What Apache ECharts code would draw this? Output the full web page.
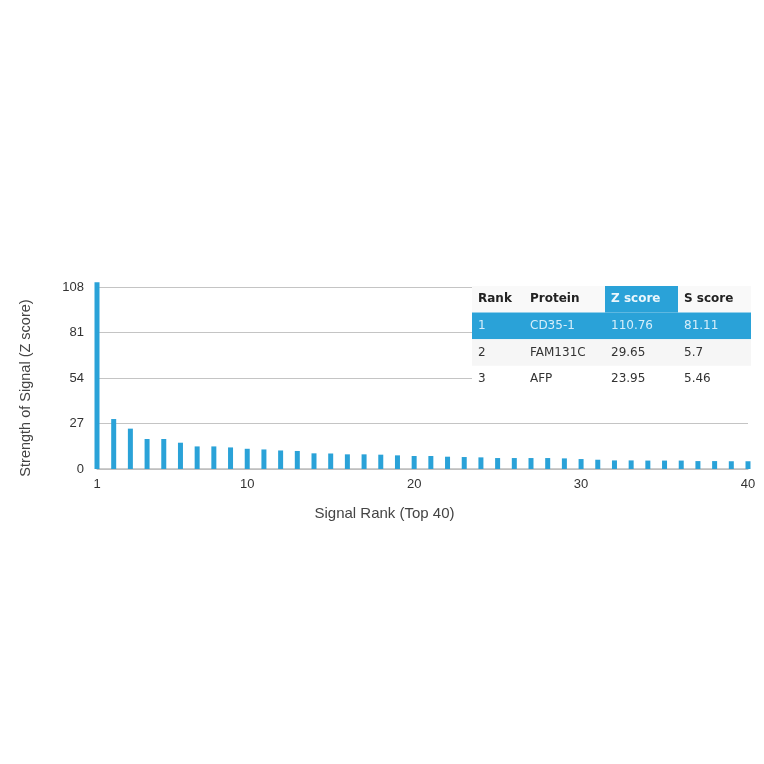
<!DOCTYPE html>
<html>
    <head>
        <meta charset="utf-8">
        <title>Signal Rank</title>
        <script src="https://cdn.jsdelivr.net/npm/echarts@6/dist/echarts.min.js"></script>
        <style>
            html, body { margin: 0; padding: 0; background: #fff; }
            #chart1 { width: 764px; height: 764px; }
        </style>
    </head>
    <body>
        <div id="chart1"></div>
        <script type="text/javascript">
            // signal ranks (top 40)
            var ranks = ['1', '2', '3', '4', '5', '6', '7', '8', '9', '10',
                         '11', '12', '13', '14', '15', '16', '17', '18', '19', '20',
                         '21', '22', '23', '24', '25', '26', '27', '28', '29', '30',
                         '31', '32', '33', '34', '35', '36', '37', '38', '39', '40'];
            // z scores
            var zScores = [110.76, 29.65, 23.95, 17.8, 17.8, 15.6, 13.4, 13.4, 12.8, 12.0,
                           11.6, 11.0, 10.7, 9.3, 9.2, 8.7, 8.7, 8.5, 8.1, 7.7,
                           7.7, 7.3, 7.1, 6.9, 6.5, 6.5, 6.5, 6.5, 6.3, 5.9,
                           5.5, 5.1, 5.1, 5.0, 5.0, 5.0, 4.7, 4.7, 4.6, 4.6];
            var shownRanks = ['1', '10', '20', '30', '40'];
            var yTicks = [0, 27, 54, 81, 108];

            // table of top hits
            var tableHeader = ['Rank', 'Protein', 'Z score', 'S score'];
            var tableRows = [
                ['1', 'CD35-1', '110.76', '81.11'],
                ['2', 'FAM131C', '29.65', '5.7'],
                ['3', 'AFP', '23.95', '5.46']
            ];

            var blue = '#2aa2d8';
            var colX = [478, 530, 611, 684];
            var tLeft = 472, tRight = 751, tTop = 286, rowH = 26.6;

            var graphics = [];
            graphics.push({ type: 'rect', z: 10, shape: { x: tLeft, y: tTop, width: tRight - tLeft, height: rowH * 4 }, style: { fill: '#ffffff' } });
            graphics.push({ type: 'rect', z: 10, shape: { x: tLeft, y: tTop, width: tRight - tLeft, height: rowH }, style: { fill: '#f9f9f9' } });
            graphics.push({ type: 'rect', z: 11, shape: { x: 605, y: tTop, width: 73, height: rowH }, style: { fill: blue } });
            graphics.push({ type: 'rect', z: 11, shape: { x: tLeft, y: tTop + rowH, width: tRight - tLeft, height: rowH }, style: { fill: blue } });
            graphics.push({ type: 'rect', z: 11, shape: { x: tLeft, y: tTop + rowH * 2, width: tRight - tLeft, height: rowH }, style: { fill: '#f6f6f6' } });
            tableHeader.forEach(function (h, i) {
                graphics.push({
                    type: 'text', z: 12, x: colX[i], y: tTop + rowH / 2,
                    style: { text: h, fill: i === 2 ? '#eaf6fc' : '#222', font: 'bold 12px "DejaVu Sans"', verticalAlign: 'middle' }
                });
            });
            tableRows.forEach(function (row, r) {
                row.forEach(function (cell, i) {
                    graphics.push({
                        type: 'text', z: 12, x: colX[i], y: tTop + rowH * (r + 1.5),
                        style: { text: cell, fill: r === 0 ? '#d6eefa' : '#333', font: '12px "DejaVu Sans"', verticalAlign: 'middle' }
                    });
                });
            });

            var myChart1 = echarts.init(document.getElementById('chart1'));
            myChart1.setOption({
                animation: false,
                backgroundColor: '#ffffff',
                textStyle: { fontFamily: '"Liberation Sans", Arial, sans-serif' },
                grid: { left: 97, right: 16, top: 287, bottom: 295, containLabel: false },
                xAxis: {
                    type: 'category',
                    data: ranks,
                    boundaryGap: false,
                    name: 'Signal Rank (Top 40)',
                    nameLocation: 'middle',
                    nameGap: 37,
                    nameTextStyle: { fontSize: 15, color: '#444', padding: [0, 76, 0, 0] },
                    axisLine: { lineStyle: { color: '#bdbdbd', width: 1.5 } },
                    axisTick: { show: false },
                    axisLabel: {
                        color: '#333', fontSize: 13, margin: 9,
                        interval: function (index, value) { return shownRanks.indexOf(value) >= 0; }
                    },
                    splitLine: { show: false }
                },
                yAxis: {
                    type: 'value',
                    min: yTicks[0],
                    max: yTicks[yTicks.length - 1],
                    interval: 27,
                    name: 'Strength of Signal (Z score)',
                    nameLocation: 'middle',
                    nameGap: 64,
                    nameTextStyle: { fontSize: 14.5, color: '#444', padding: [0, 20, 0, 0] },
                    axisLine: { show: false },
                    axisTick: { show: false },
                    axisLabel: { color: '#333', fontSize: 13, margin: 13 },
                    splitLine: { lineStyle: { color: '#c4c4c4', width: 1.2 } }
                },
                series: [{
                    type: 'bar',
                    data: zScores,
                    barWidth: 5,
                    clip: false,
                    itemStyle: { color: blue }
                }],
                graphic: graphics
            });
        </script>
    </body>
</html>
